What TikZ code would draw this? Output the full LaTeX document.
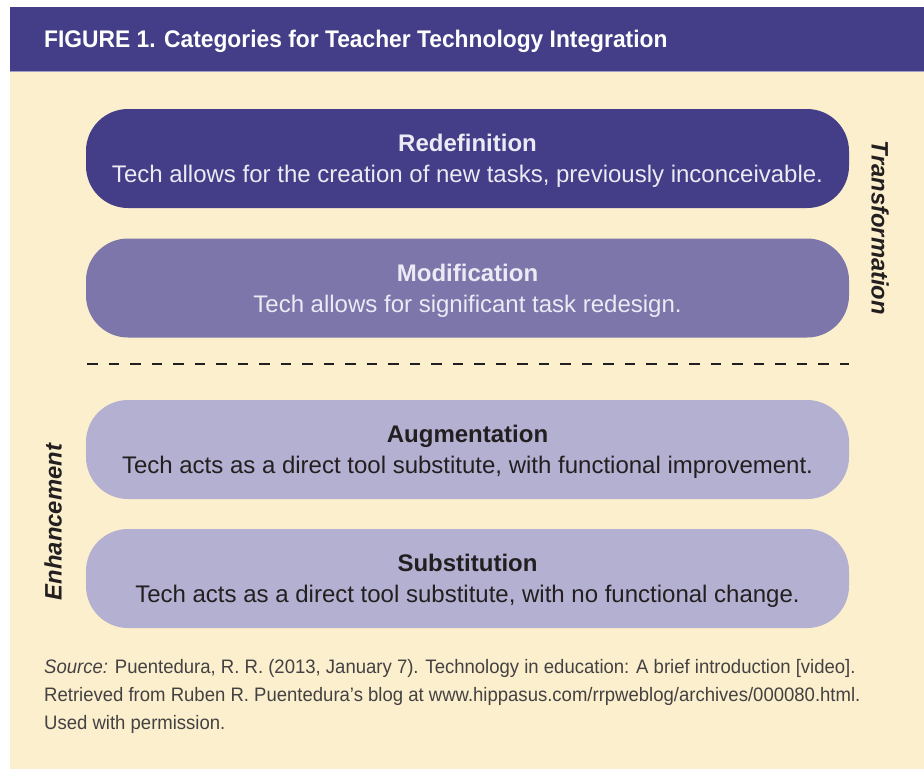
\documentclass[tikz,border=0pt]{standalone}
\usepackage{fontspec}
\setmainfont{Liberation Sans}
\newfontfamily\titlefont[FakeStretch=0.95]{Liberation Sans}
\newfontfamily\notefont[FakeStretch=0.95]{Liberation Sans}
\definecolor{bandblue}{HTML}{433E87}
\definecolor{midviolet}{HTML}{7C76AB}
\definecolor{paleviolet}{HTML}{B3B0D1}
\definecolor{paper}{HTML}{FCEFCD}
\definecolor{ink}{HTML}{231F20}
\definecolor{softwhite}{HTML}{ECEAF4}
\definecolor{bandedge}{HTML}{A29DC5}
\begin{document}
\begin{tikzpicture}[x=1pt,y=-1pt,
  level/.style={rounded corners=42pt, minimum width=763pt, minimum height=99pt,
                inner sep=0pt, draw=none},
  headtext/.style={anchor=base, inner sep=0pt, font=\fontsize{24}{28}\selectfont\bfseries},
  subtext/.style={anchor=base, inner sep=0pt, font=\fontsize{24}{28}\selectfont},
  sidetext/.style={inner sep=0pt, text=ink, font=\fontsize{23.8}{28}\selectfont\bfseries\itshape},
  note/.style={anchor=base west, inner sep=0pt, text=ink!85, font=\notefont\fontsize{19.5}{23}\selectfont}]
\useasboundingbox (0,0) rectangle (924,769);
\fill[white] (0,0) rectangle (924,769);
% panel and title band
\fill[paper] (10,71) rectangle (924,769);
\fill[bandblue] (10,7) rectangle (924,71);
\draw[bandedge, line width=1pt] (10,71) -- (924,71);
\node[anchor=base west, inner sep=0pt, text=white,
      font=\titlefont\fontsize{24}{28}\selectfont\bfseries] (title) at (44,47)
  {FIGURE 1. Categories for Teacher Technology Integration};

% the four levels
\node[level, fill=bandblue]   (redef) at (467.5,158.5) {};
\node[level, fill=midviolet]  (modif) at (467.5,288)   {};
\node[level, fill=paleviolet] (augm)  at (467.5,449.5) {};
\node[level, fill=paleviolet] (subst) at (467.5,578.5) {};

\node[headtext, text=softwhite] (redefh) at ([yshift=-43pt]redef.north) {Redefinition};
\node[subtext, text=softwhite]  (redefs) at ([yshift=-74pt]redef.north) {Tech allows for the creation of new tasks, previously inconceivable.};
\node[headtext, text=softwhite] (modifh) at ([yshift=-43pt]modif.north) {Modification};
\node[subtext, text=softwhite]  (modifs) at ([yshift=-74pt]modif.north) {Tech allows for significant task redesign.};
\node[headtext, text=ink] (augmh) at ([yshift=-43pt]augm.north) {Augmentation};
\node[subtext, text=ink]  (augms) at ([yshift=-74pt]augm.north) {Tech acts as a direct tool substitute, with functional improvement.};
\node[headtext, text=ink] (substh) at ([yshift=-43pt]subst.north) {Substitution};
\node[subtext, text=ink]  (substs) at ([yshift=-74pt]subst.north) {Tech acts as a direct tool substitute, with no functional change.};

% divider between enhancement and transformation
\coordinate (divL) at (87,364);
\coordinate (divR) at (849,364);
\draw[ink, line width=2.6pt, dash pattern=on 10.5pt off 11pt] (divL) -- (divR);

% side labels
\node[sidetext, rotate=-90] (transf) at (880,228) {Transformation};
\node[sidetext, rotate=90]  (enhan)  at (53,522)  {Enhancement};

% source note
\node[note] (src1) at (44,673) {\textit{Source:} Puentedura, R. R. (2013, January 7). Technology in education: A brief introduction [video].};
\node[note] (src2) at (44,701) {Retrieved from Ruben R. Puentedura’s blog at www.hippasus.com/rrpweblog/archives/000080.html.};
\node[note] (src3) at (44,729) {Used with permission.};
\end{tikzpicture}
\end{document}
